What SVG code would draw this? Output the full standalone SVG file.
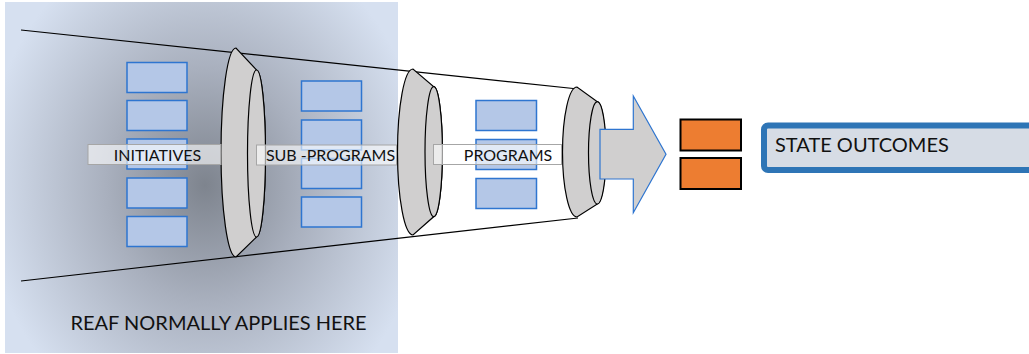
<svg xmlns="http://www.w3.org/2000/svg" width="1029" height="354" viewBox="0 0 1029 354">
  <defs>
    <radialGradient id="bg" cx="205" cy="185" r="260" gradientUnits="userSpaceOnUse" gradientTransform="translate(205 185) scale(0.85 1) translate(-205 -185)">
      <stop offset="0" stop-color="#7e848e"/>
      <stop offset="0.45" stop-color="#a9b0be"/>
      <stop offset="1" stop-color="#d6e0f0"/>
    </radialGradient>
  </defs>
  <style>
    .blk{fill:#b4c7e7;stroke:#2e75d0;stroke-width:1.5}
    .lens{fill:#d0cfcf;stroke:#000;stroke-width:1.2}
    .lbl{fill:#ffffff;fill-opacity:0.6;stroke:#a6a6a6;stroke-width:1}
    .t{font-family:Lato,"Liberation Sans",Arial,sans-serif;fill:#111}
    .cone{stroke:#000;stroke-width:1.2;fill:none}
    .org{fill:#ed7d31;stroke:#000;stroke-width:2}
  </style>

  <rect id="panel" x="5" y="2" width="393" height="351" fill="url(#bg)"/>

  <g id="connectors">
    <line class="cone" x1="21" y1="30" x2="578" y2="89"/>
    <line class="cone" x1="21" y1="281" x2="578" y2="218"/>
  </g>

  <g id="initiatives-blocks">
    <rect class="blk" x="127" y="62.5" width="60" height="30"/>
    <rect class="blk" x="127" y="100.5" width="60" height="30"/>
    <rect class="blk" x="127" y="139" width="60" height="30"/>
    <rect class="blk" x="127" y="178" width="60" height="30"/>
    <rect class="blk" x="127" y="216.5" width="60" height="30"/>
  </g>
  <g id="subprograms-blocks">
    <rect class="blk" x="301.5" y="81" width="60" height="30"/>
    <rect class="blk" x="301.5" y="120" width="60" height="30"/>
    <rect class="blk" x="301.5" y="158.5" width="60" height="30"/>
    <rect class="blk" x="301.5" y="197" width="60" height="30"/>
  </g>
  <g id="programs-blocks">
    <rect class="blk" x="476" y="100.5" width="60.5" height="30"/>
    <rect class="blk" x="476" y="139.5" width="60.5" height="30"/>
    <rect class="blk" x="476" y="178.5" width="60.5" height="30"/>
  </g>

  <g id="lens1">
    <path class="lens" d="M236,48 A15,104.5 0 0 0 236,257 L256.5,237 A9,83.5 0 0 0 256.5,70 Z"/>
    <ellipse class="lens" cx="256.5" cy="153.5" rx="9" ry="83.5"/>
  </g>
  <g id="lens2">
    <path class="lens" d="M413,69 A15.5,83 0 0 0 413,235 L433.7,216.7 A8.7,65 0 0 0 433.7,86.7 Z"/>
    <ellipse class="lens" cx="433.7" cy="151.7" rx="8.7" ry="65"/>
  </g>
  <g id="lens3">
    <path class="lens" d="M577,87 A14.5,65 0 0 0 577,217 L597.3,204 A8.8,51.2 0 0 0 597.3,101.7 Z"/>
    <ellipse class="lens" cx="597.3" cy="152.8" rx="8.8" ry="51.2"/>
  </g>

  <g id="initiatives-label">
    <rect class="lbl" x="88" y="144.5" width="133" height="20"/>
    <text class="t" x="157.5" y="160.5" font-size="16" text-anchor="middle">INITIATIVES</text>
  </g>
  <g id="subprograms-label">
    <rect class="lbl" x="256.5" y="145" width="140" height="20"/>
    <text class="t" x="330.5" y="161" font-size="16" text-anchor="middle">SUB -PROGRAMS</text>
  </g>
  <g id="programs-label">
    <rect class="lbl" x="433.5" y="144.5" width="128" height="20"/>
    <text class="t" x="508" y="160.5" font-size="16" text-anchor="middle">PROGRAMS</text>
  </g>

  <g id="arrow">
    <path d="M600,129.3 L633.3,129.3 L633.3,96 L666,154.3 L633.3,212.7 L633.3,179 L600,179 Z" fill="#d0cfcf" stroke="#2e75d0" stroke-width="1.2"/>
  </g>

  <g id="outcome-blocks">
    <rect class="org" x="680.5" y="119.5" width="60.5" height="31"/>
    <rect class="org" x="680.5" y="158" width="60.5" height="31"/>
  </g>

  <g id="state-outcomes">
    <rect x="764" y="125.5" width="280" height="44.5" rx="4" fill="#d6dce5" stroke="#2e75b6" stroke-width="6"/>
    <text class="t" x="775" y="152" font-size="20">STATE OUTCOMES</text>
  </g>

  <g id="reaf-label">
    <text class="t" x="70.5" y="329.5" font-size="20">REAF NORMALLY APPLIES HERE</text>
  </g>
</svg>
